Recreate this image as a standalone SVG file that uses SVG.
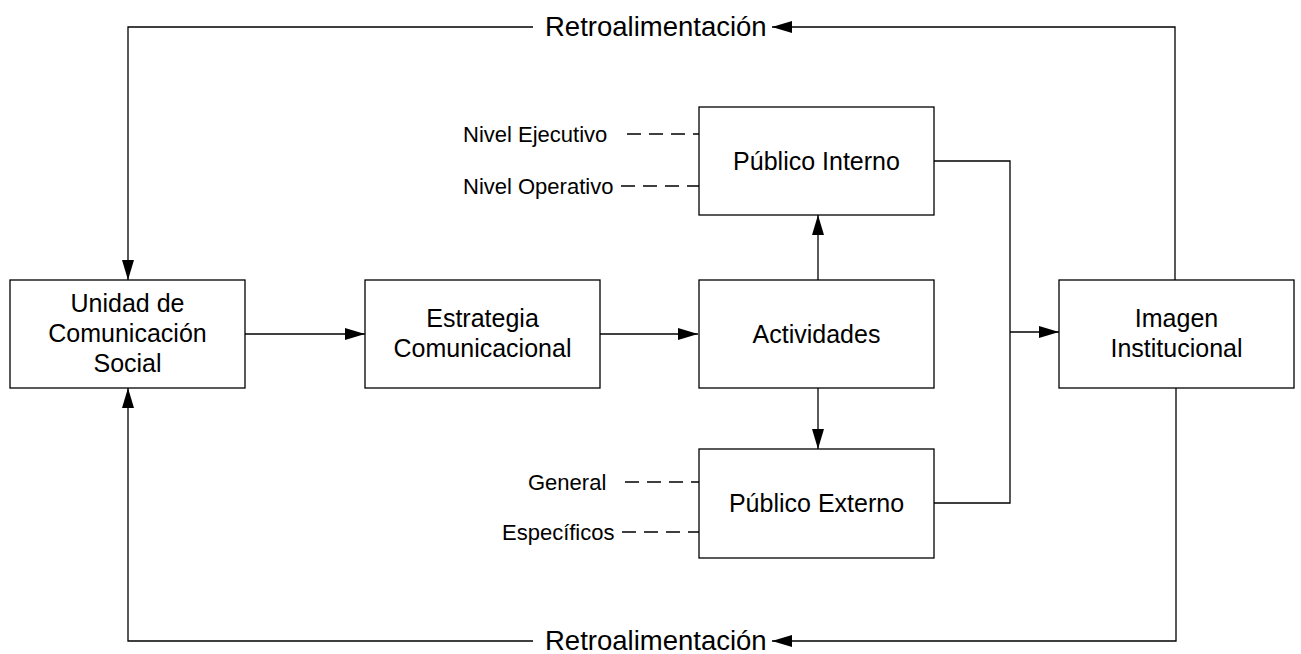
<svg xmlns="http://www.w3.org/2000/svg" width="1301" height="654" viewBox="0 0 1301 654">
<style>
  .box { fill: #fff; stroke: #000; stroke-width: 1.3; }
  .lbl { font-family: "Liberation Sans", Arial, sans-serif; font-size: 25px; fill: #000; text-anchor: middle; }
  .side { font-family: "Liberation Sans", Arial, sans-serif; font-size: 22px; fill: #000; }
  .retro { font-family: "Liberation Sans", Arial, sans-serif; font-size: 27.5px; fill: #000; }
  .conn { fill: none; stroke: #000; stroke-width: 1.3; }
  .dash { fill: none; stroke: #000; stroke-width: 1.3; stroke-dasharray: 14 8; }
</style>
<defs>
  <marker id="arr" viewBox="0 0 20 12" refX="20" refY="6" markerWidth="20" markerHeight="12" markerUnits="userSpaceOnUse" orient="auto">
    <path d="M0,0 L20,6 L0,12 z" fill="#000"/>
  </marker>
</defs>
<rect width="1301" height="654" fill="#fff"/>

<g id="connectors">
  <!-- top feedback -->
  <path class="conn" d="M1175,280 L1175,27 L772,27" marker-end="url(#arr)"/>
  <path class="conn" d="M533,27 L128,27 L128,280" marker-end="url(#arr)"/>
  <!-- bottom feedback -->
  <path class="conn" d="M1176,388 L1176,641 L772,641" marker-end="url(#arr)"/>
  <path class="conn" d="M533,641 L128,641 L128,388" marker-end="url(#arr)"/>
  <!-- main flow -->
  <path class="conn" d="M245,334 L365,334" marker-end="url(#arr)"/>
  <path class="conn" d="M600,334 L698,334" marker-end="url(#arr)"/>
  <path class="conn" d="M818,280 L818,215" marker-end="url(#arr)"/>
  <path class="conn" d="M818,388 L818,449" marker-end="url(#arr)"/>
  <!-- junction to Imagen -->
  <path class="conn" d="M934,161 L1010,161 L1010,503 L934,503"/>
  <path class="conn" d="M1010,332 L1059,332" marker-end="url(#arr)"/>
  <!-- dashed -->
  <path class="dash" d="M627,134 L699,134"/>
  <path class="dash" d="M621,186 L699,186"/>
  <path class="dash" d="M625,482 L699,482"/>
  <path class="dash" d="M622,532 L699,532"/>
</g>

<g id="retro-top">
  <text class="retro" x="545" y="36">Retroalimentación</text>
</g>
<g id="retro-bottom">
  <text class="retro" x="545" y="650">Retroalimentación</text>
</g>

<g id="unidad">
  <rect class="box" x="10" y="280" width="235" height="108"/>
  <text class="lbl" x="127.5" y="312">Unidad de</text>
  <text class="lbl" x="127.5" y="342">Comunicación</text>
  <text class="lbl" x="127.5" y="372">Social</text>
</g>
<g id="estrategia">
  <rect class="box" x="365" y="280" width="235" height="108"/>
  <text class="lbl" x="482.5" y="327">Estrategia</text>
  <text class="lbl" x="482.5" y="357">Comunicacional</text>
</g>
<g id="actividades">
  <rect class="box" x="699" y="280" width="235" height="108"/>
  <text class="lbl" x="816.5" y="343">Actividades</text>
</g>
<g id="publico-interno">
  <rect class="box" x="699" y="107" width="235" height="108"/>
  <text class="lbl" x="816.5" y="170">Público Interno</text>
</g>
<g id="publico-externo">
  <rect class="box" x="699" y="449" width="235" height="109"/>
  <text class="lbl" x="816.5" y="512">Público Externo</text>
</g>
<g id="imagen">
  <rect class="box" x="1059" y="280" width="235" height="108"/>
  <text class="lbl" x="1176.5" y="327">Imagen</text>
  <text class="lbl" x="1176.5" y="357">Institucional</text>
</g>

<g id="nivel-ejecutivo"><text class="side" x="463" y="142">Nivel Ejecutivo</text></g>
<g id="nivel-operativo"><text class="side" x="463" y="194">Nivel Operativo</text></g>
<g id="general"><text class="side" x="528" y="490">General</text></g>
<g id="especificos"><text class="side" x="502" y="540">Específicos</text></g>
</svg>
